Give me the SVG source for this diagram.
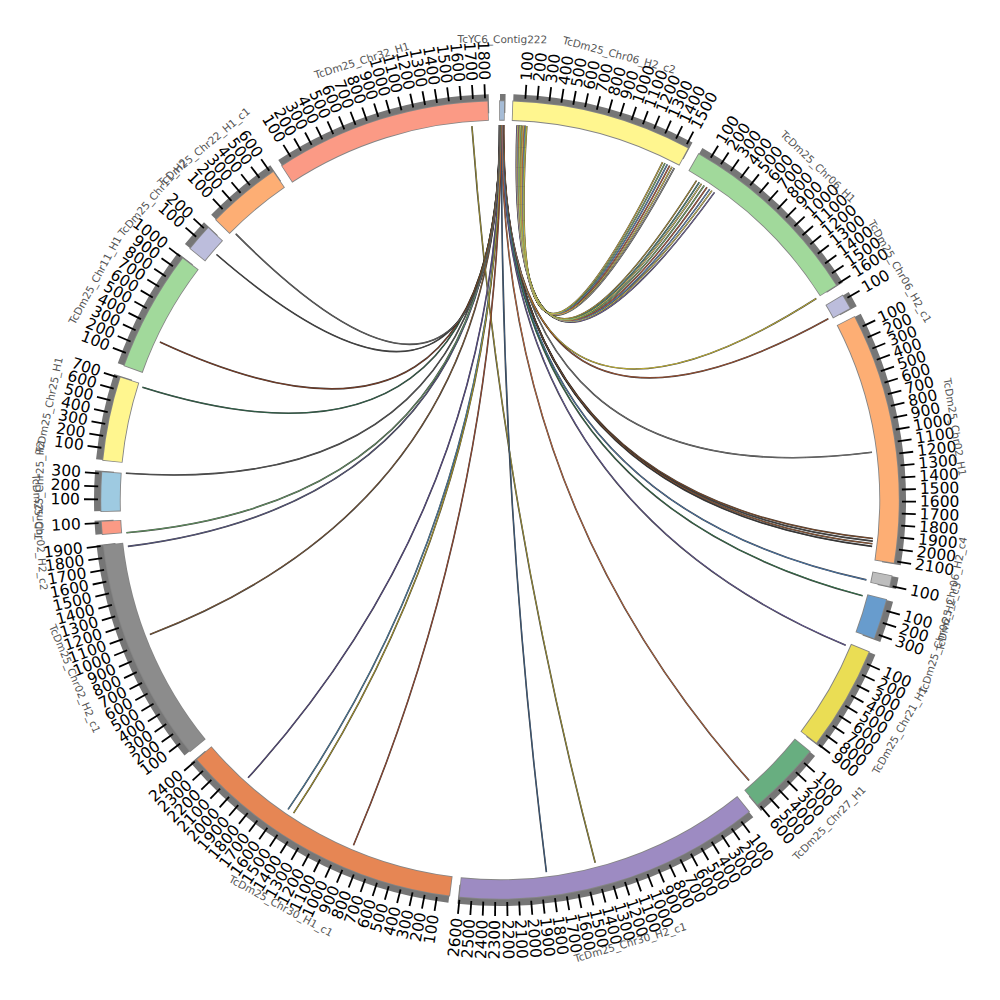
<svg xmlns="http://www.w3.org/2000/svg" xmlns:xlink="http://www.w3.org/1999/xlink" width="1000" height="1000" viewBox="0 0 1000 1000">
<style>
.sh{fill:none;stroke:#767676;stroke-width:19}
.ol{fill:none;stroke:#858585;stroke-width:20.4}
.bd{fill:none;stroke-width:18.6}
.r,.l{font-family:'DejaVu Sans',sans-serif;font-size:15.5px;fill:#000;dominant-baseline:central}
.l{text-anchor:end}
.nm{font-family:'DejaVu Sans',sans-serif;font-size:10.5px;fill:#555;text-anchor:middle;dominant-baseline:central}
.lo{fill:none;stroke:#1a1a1a;stroke-width:1.6;stroke-opacity:.85}
.li{fill:none;stroke-width:0.8}
</style>
<defs>
<line id="t" x1="402" y1="0" x2="416" y2="0" stroke="#000" stroke-width="1.8"/>
<path id="a1" d="M22.8,-374.3Q4,-18 174.3,-332"/>
<path id="a2" d="M23.6,-374.3Q4,-18 172,-333.2"/>
<path id="a3" d="M24.4,-374.2Q4,-18 169.7,-334.4"/>
<path id="a4" d="M25.2,-374.2Q4,-18 167.3,-335.6"/>
<path id="a5" d="M26,-374.1Q4,-18 165,-336.8"/>
<path id="a6" d="M26.8,-374Q4,-18 162.6,-337.9"/>
<path id="b1" d="M17,-374.6Q4,-18 214.5,-307.6"/>
<path id="b2" d="M17.7,-374.6Q4,-18 211.9,-309.4"/>
<path id="b3" d="M18.4,-374.5Q4,-18 209.7,-310.9"/>
<path id="b4" d="M19.1,-374.5Q4,-18 207,-312.7"/>
<path id="b5" d="M19.8,-374.5Q4,-18 204.2,-314.5"/>
<path id="b6" d="M20.5,-374.4Q4,-18 201.5,-316.3"/>
<path id="b7" d="M21.2,-374.4Q4,-18 199.3,-317.7"/>
<path id="b8" d="M21.9,-374.4Q4,-18 196.5,-319.4"/>
<path id="c1" d="M3.5,-375Q0,0 316.3,-201.5"/>
<path id="c2" d="M3.8,-375Q0,0 328.3,-181.2"/>
<path id="d1" d="M3.2,-375Q0,0 372,-47.7"/>
<path id="e1" d="M2.6,-375Q0,0 373,38.5"/>
<path id="e2" d="M2.8,-375Q0,0 372.8,41.1"/>
<path id="e3" d="M3,-375Q0,0 372.4,43.8"/>
<path id="e4" d="M3.1,-375Q0,0 372.1,46.4"/>
<path id="f1" d="M2.4,-375Q0,0 366.4,79.9"/>
<path id="g1" d="M2.2,-375Q0,0 362.6,95.8"/>
<path id="h1" d="M2,-375Q0,0 345.7,145.3"/>
<path id="i1" d="M1.8,-375Q0,0 249,280.4"/>
<path id="j1" d="M-28.1,-373.9Q0,0 95.2,362.7"/>
<path id="k1" d="M1.5,-375Q0,0 46.4,372.1"/>
<path id="l1" d="M0.7,-375Q0,0 -251.9,277.8"/>
<path id="l2" d="M0.9,-375Q0,0 -211.9,309.4"/>
<path id="l3" d="M1,-375Q0,0 -206.4,313.1"/>
<path id="l4" d="M1.2,-375Q0,0 -146.5,345.2"/>
<path id="m1" d="M0.5,-375Q0,0 -350.1,134.4"/>
<path id="m2" d="M0.3,-375Q0,0 -372.1,46.4"/>
<path id="m3" d="M0.2,-375Q0,0 -373.6,32.7"/>
<path id="m4" d="M0.1,-375Q0,0 -374.1,-26.8"/>
<path id="n1" d="M0,-375Q0,0 -357.6,-112.8"/>
<path id="o1" d="M-0.2,-375Q0,0 -340.1,-157.9"/>
<path id="p1" d="M-0.4,-375Q0,0 -283.5,-245.5"/>
<path id="q1" d="M-0.6,-375Q0,0 -264.2,-266.1"/>
</defs>
<rect width="1000" height="1000" fill="#fff"/>
<g transform="translate(500,500)">
<g id="links">
<g class="lo">
<use href="#a1"/><use href="#a2"/><use href="#a3"/><use href="#a4"/><use href="#a5"/><use href="#a6"/>
<use href="#b1"/><use href="#b2"/><use href="#b3"/><use href="#b4"/><use href="#b5"/><use href="#b6"/><use href="#b7"/><use href="#b8"/>
<use href="#c1"/><use href="#c2"/><use href="#d1"/><use href="#e1"/><use href="#e2"/><use href="#e3"/><use href="#e4"/>
<use href="#f1"/><use href="#g1"/><use href="#h1"/><use href="#i1"/><use href="#j1"/><use href="#k1"/>
<use href="#l1"/><use href="#l2"/><use href="#l3"/><use href="#l4"/><use href="#m1"/><use href="#m2"/><use href="#m3"/><use href="#m4"/>
<use href="#n1"/><use href="#o1"/><use href="#p1"/><use href="#q1"/>
</g>
<g class="li">
<use href="#a1" stroke="#9a9a9a"/><use href="#a2" stroke="#e8d44d"/><use href="#a3" stroke="#d05a3a"/><use href="#a4" stroke="#5b8fd0"/><use href="#a5" stroke="#7fbf6a"/><use href="#a6" stroke="#e0c040"/>
<use href="#b1" stroke="#7a6ab0"/><use href="#b2" stroke="#e8d44d"/><use href="#b3" stroke="#5b8fd0"/><use href="#b4" stroke="#d05a3a"/><use href="#b5" stroke="#7fbf6a"/><use href="#b6" stroke="#f0e060"/><use href="#b7" stroke="#4a9a8a"/><use href="#b8" stroke="#c0a030"/>
<use href="#c1" stroke="#e0cc30"/><use href="#c2" stroke="#b0502a"/><use href="#d1" stroke="#777"/><use href="#e1" stroke="#8a4a20"/><use href="#e2" stroke="#444"/><use href="#e3" stroke="#a05a30"/><use href="#e4" stroke="#333"/>
<use href="#f1" stroke="#4a80c0"/><use href="#g1" stroke="#2f7a4a"/><use href="#h1" stroke="#6a5aa8"/><use href="#i1" stroke="#d06a38"/><use href="#j1" stroke="#a89a30"/><use href="#k1" stroke="#3a5f8a"/>
<use href="#l1" stroke="#5a4a98"/><use href="#l2" stroke="#4a8ab8"/><use href="#l3" stroke="#c0a820"/><use href="#l4" stroke="#a8482a"/><use href="#m1" stroke="#8a5a30"/><use href="#m2" stroke="#5a5a90"/><use href="#m3" stroke="#6aaa6a"/><use href="#m4" stroke="#555"/>
<use href="#n1" stroke="#2a6a4a"/><use href="#o1" stroke="#8a3a1a"/><use href="#p1" stroke="#444"/><use href="#q1" stroke="#666"/>
</g>
</g>

<g id="contig222">
<circle class="sh" r="396.5" stroke-dasharray="5.54 3000" transform="rotate(-90)"/>
<circle class="ol" r="389.5" stroke-dasharray="5.68 3000" transform="rotate(-90.12)"/>
<circle class="bd" r="389.5" stroke="#a6bcd6" stroke-dasharray="4.08 3000" transform="rotate(-90)"/>
<text class="nm" transform="rotate(0.3) translate(0,-461)">TcYC6_Contig222</text>
</g>

<g id="chr06_h2_c2">
<circle class="sh" r="396.5" stroke-dasharray="182.69 3000" transform="rotate(-88.1)"/>
<circle class="ol" r="389.5" stroke-dasharray="179.71 3000" transform="rotate(-88.22)"/>
<circle class="bd" r="389.5" stroke="#fff68f" stroke-dasharray="178.11 3000" transform="rotate(-88.1)"/>
<use href="#t" transform="rotate(-86.38)"/><text class="r" transform="rotate(-86.38) translate(420)">100</text>
<use href="#t" transform="rotate(-84.66)"/><text class="r" transform="rotate(-84.66) translate(420)">200</text>
<use href="#t" transform="rotate(-82.94)"/><text class="r" transform="rotate(-82.94) translate(420)">300</text>
<use href="#t" transform="rotate(-81.22)"/><text class="r" transform="rotate(-81.22) translate(420)">400</text>
<use href="#t" transform="rotate(-79.5)"/><text class="r" transform="rotate(-79.5) translate(420)">500</text>
<use href="#t" transform="rotate(-77.78)"/><text class="r" transform="rotate(-77.78) translate(420)">600</text>
<use href="#t" transform="rotate(-76.06)"/><text class="r" transform="rotate(-76.06) translate(420)">700</text>
<use href="#t" transform="rotate(-74.34)"/><text class="r" transform="rotate(-74.34) translate(420)">800</text>
<use href="#t" transform="rotate(-72.62)"/><text class="r" transform="rotate(-72.62) translate(420)">900</text>
<use href="#t" transform="rotate(-70.9)"/><text class="r" transform="rotate(-70.9) translate(420)">1000</text>
<use href="#t" transform="rotate(-69.18)"/><text class="r" transform="rotate(-69.18) translate(420)">1100</text>
<use href="#t" transform="rotate(-67.46)"/><text class="r" transform="rotate(-67.46) translate(420)">1200</text>
<use href="#t" transform="rotate(-65.74)"/><text class="r" transform="rotate(-65.74) translate(420)">1300</text>
<use href="#t" transform="rotate(-64.02)"/><text class="r" transform="rotate(-64.02) translate(420)">1400</text>
<use href="#t" transform="rotate(-62.3)"/><text class="r" transform="rotate(-62.3) translate(420)">1500</text>
<text class="nm" transform="rotate(15) translate(0,-461)">TcDm25_Chr06_H2_c2</text>
</g>

<g id="chr06_h1">
<circle class="sh" r="396.5" stroke-dasharray="191.68 3000" transform="rotate(-60.1)"/>
<circle class="ol" r="389.5" stroke-dasharray="188.55 3000" transform="rotate(-60.22)"/>
<circle class="bd" r="389.5" stroke="#a1d99b" stroke-dasharray="186.95 3000" transform="rotate(-60.1)"/>
<use href="#t" transform="rotate(-58.38)"/><text class="r" transform="rotate(-58.38) translate(420)">100</text>
<use href="#t" transform="rotate(-56.66)"/><text class="r" transform="rotate(-56.66) translate(420)">200</text>
<use href="#t" transform="rotate(-54.95)"/><text class="r" transform="rotate(-54.95) translate(420)">300</text>
<use href="#t" transform="rotate(-53.23)"/><text class="r" transform="rotate(-53.23) translate(420)">400</text>
<use href="#t" transform="rotate(-51.51)"/><text class="r" transform="rotate(-51.51) translate(420)">500</text>
<use href="#t" transform="rotate(-49.79)"/><text class="r" transform="rotate(-49.79) translate(420)">600</text>
<use href="#t" transform="rotate(-48.07)"/><text class="r" transform="rotate(-48.07) translate(420)">700</text>
<use href="#t" transform="rotate(-46.36)"/><text class="r" transform="rotate(-46.36) translate(420)">800</text>
<use href="#t" transform="rotate(-44.64)"/><text class="r" transform="rotate(-44.64) translate(420)">900</text>
<use href="#t" transform="rotate(-42.92)"/><text class="r" transform="rotate(-42.92) translate(420)">1000</text>
<use href="#t" transform="rotate(-41.2)"/><text class="r" transform="rotate(-41.2) translate(420)">1100</text>
<use href="#t" transform="rotate(-39.48)"/><text class="r" transform="rotate(-39.48) translate(420)">1200</text>
<use href="#t" transform="rotate(-37.77)"/><text class="r" transform="rotate(-37.77) translate(420)">1300</text>
<use href="#t" transform="rotate(-36.05)"/><text class="r" transform="rotate(-36.05) translate(420)">1400</text>
<use href="#t" transform="rotate(-34.33)"/><text class="r" transform="rotate(-34.33) translate(420)">1500</text>
<use href="#t" transform="rotate(-32.61)"/><text class="r" transform="rotate(-32.61) translate(420)">1600</text>
<text class="nm" transform="rotate(43.65) translate(0,-461)">TcDm25_Chr06_H1</text>
</g>

<g id="chr06_h2_c1">
<circle class="sh" r="396.5" stroke-dasharray="15.92 3000" transform="rotate(-30.8)"/>
<circle class="ol" r="389.5" stroke-dasharray="15.88 3000" transform="rotate(-30.92)"/>
<circle class="bd" r="389.5" stroke="#bcbddc" stroke-dasharray="14.28 3000" transform="rotate(-30.8)"/>
<use href="#t" transform="rotate(-30.2)"/><text class="r" transform="rotate(-30.2) translate(420)">100</text>
<text class="nm" transform="rotate(60.25) translate(0,-461)">TcDm25_Chr06_H2_c1</text>
</g>

<g id="chr02_h1">
<circle class="sh" r="396.5" stroke-dasharray="252.93 3000" transform="rotate(-27.3)"/>
<circle class="ol" r="389.5" stroke-dasharray="248.71 3000" transform="rotate(-27.42)"/>
<circle class="bd" r="389.5" stroke="#fdae74" stroke-dasharray="247.11 3000" transform="rotate(-27.3)"/>
<use href="#t" transform="rotate(-25.58)"/><text class="r" transform="rotate(-25.58) translate(420)">100</text>
<use href="#t" transform="rotate(-23.86)"/><text class="r" transform="rotate(-23.86) translate(420)">200</text>
<use href="#t" transform="rotate(-22.14)"/><text class="r" transform="rotate(-22.14) translate(420)">300</text>
<use href="#t" transform="rotate(-20.42)"/><text class="r" transform="rotate(-20.42) translate(420)">400</text>
<use href="#t" transform="rotate(-18.7)"/><text class="r" transform="rotate(-18.7) translate(420)">500</text>
<use href="#t" transform="rotate(-16.98)"/><text class="r" transform="rotate(-16.98) translate(420)">600</text>
<use href="#t" transform="rotate(-15.26)"/><text class="r" transform="rotate(-15.26) translate(420)">700</text>
<use href="#t" transform="rotate(-13.54)"/><text class="r" transform="rotate(-13.54) translate(420)">800</text>
<use href="#t" transform="rotate(-11.82)"/><text class="r" transform="rotate(-11.82) translate(420)">900</text>
<use href="#t" transform="rotate(-10.1)"/><text class="r" transform="rotate(-10.1) translate(420)">1000</text>
<use href="#t" transform="rotate(-8.38)"/><text class="r" transform="rotate(-8.38) translate(420)">1100</text>
<use href="#t" transform="rotate(-6.66)"/><text class="r" transform="rotate(-6.66) translate(420)">1200</text>
<use href="#t" transform="rotate(-4.94)"/><text class="r" transform="rotate(-4.94) translate(420)">1300</text>
<use href="#t" transform="rotate(-3.22)"/><text class="r" transform="rotate(-3.22) translate(420)">1400</text>
<use href="#t" transform="rotate(-1.5)"/><text class="r" transform="rotate(-1.5) translate(420)">1500</text>
<use href="#t" transform="rotate(0.22)"/><text class="r" transform="rotate(0.22) translate(420)">1600</text>
<use href="#t" transform="rotate(1.94)"/><text class="r" transform="rotate(1.94) translate(420)">1700</text>
<use href="#t" transform="rotate(3.66)"/><text class="r" transform="rotate(3.66) translate(420)">1800</text>
<use href="#t" transform="rotate(5.38)"/><text class="r" transform="rotate(5.38) translate(420)">1900</text>
<use href="#t" transform="rotate(7.1)"/><text class="r" transform="rotate(7.1) translate(420)">2000</text>
<use href="#t" transform="rotate(8.82)"/><text class="r" transform="rotate(8.82) translate(420)">2100</text>
<text class="nm" transform="rotate(80.875) translate(0,-461)">TcDm25_Chr02_H1</text>
</g>

<g id="chr06_h2_c4">
<circle class="sh" r="396.5" stroke-dasharray="11.76 3000" transform="rotate(11)"/>
<circle class="ol" r="389.5" stroke-dasharray="11.8 3000" transform="rotate(10.88)"/>
<circle class="bd" r="389.5" stroke="#bdbdbd" stroke-dasharray="10.2 3000" transform="rotate(11)"/>
<use href="#t" transform="rotate(12.4)"/><text class="r" transform="rotate(12.4) translate(420)">100</text>
<text class="nm" transform="rotate(-78.25) translate(0,461)">TcDm25_Chr06_H2_c4</text>
</g>

<g id="chr06_h2_c3">
<circle class="sh" r="396.5" stroke-dasharray="41.52 3000" transform="rotate(14.5)"/>
<circle class="ol" r="389.5" stroke-dasharray="41.03 3000" transform="rotate(14.38)"/>
<circle class="bd" r="389.5" stroke="#689ccd" stroke-dasharray="39.43 3000" transform="rotate(14.5)"/>
<use href="#t" transform="rotate(16)"/><text class="r" transform="rotate(16) translate(420)">100</text>
<use href="#t" transform="rotate(17.8)"/><text class="r" transform="rotate(17.8) translate(420)">200</text>
<use href="#t" transform="rotate(19.6)"/><text class="r" transform="rotate(19.6) translate(420)">300</text>
<text class="nm" transform="rotate(-72.6) translate(0,461)">TcDm25_Chr06_H2_c3</text>
</g>

<g id="chr21_h1">
<circle class="sh" r="396.5" stroke-dasharray="105.88 3000" transform="rotate(22.4)"/>
<circle class="ol" r="389.5" stroke-dasharray="104.25 3000" transform="rotate(22.28)"/>
<circle class="bd" r="389.5" stroke="#eadd54" stroke-dasharray="102.65 3000" transform="rotate(22.4)"/>
<use href="#t" transform="rotate(24.08)"/><text class="r" transform="rotate(24.08) translate(420)">100</text>
<use href="#t" transform="rotate(25.76)"/><text class="r" transform="rotate(25.76) translate(420)">200</text>
<use href="#t" transform="rotate(27.43)"/><text class="r" transform="rotate(27.43) translate(420)">300</text>
<use href="#t" transform="rotate(29.11)"/><text class="r" transform="rotate(29.11) translate(420)">400</text>
<use href="#t" transform="rotate(30.79)"/><text class="r" transform="rotate(30.79) translate(420)">500</text>
<use href="#t" transform="rotate(32.47)"/><text class="r" transform="rotate(32.47) translate(420)">600</text>
<use href="#t" transform="rotate(34.15)"/><text class="r" transform="rotate(34.15) translate(420)">700</text>
<use href="#t" transform="rotate(35.82)"/><text class="r" transform="rotate(35.82) translate(420)">800</text>
<use href="#t" transform="rotate(37.5)"/><text class="r" transform="rotate(37.5) translate(420)">900</text>
<text class="nm" transform="rotate(-60.05) translate(0,461)">TcDm25_Chr21_H1</text>
</g>

<g id="chr27_h1">
<circle class="sh" r="396.5" stroke-dasharray="75.43 3000" transform="rotate(39.1)"/>
<circle class="ol" r="389.5" stroke-dasharray="74.34 3000" transform="rotate(38.98)"/>
<circle class="bd" r="389.5" stroke="#68ae80" stroke-dasharray="72.74 3000" transform="rotate(39.1)"/>
<use href="#t" transform="rotate(40.85)"/><text class="r" transform="rotate(40.85) translate(420)">100</text>
<use href="#t" transform="rotate(42.6)"/><text class="r" transform="rotate(42.6) translate(420)">200</text>
<use href="#t" transform="rotate(44.35)"/><text class="r" transform="rotate(44.35) translate(420)">300</text>
<use href="#t" transform="rotate(46.1)"/><text class="r" transform="rotate(46.1) translate(420)">400</text>
<use href="#t" transform="rotate(47.85)"/><text class="r" transform="rotate(47.85) translate(420)">500</text>
<use href="#t" transform="rotate(49.6)"/><text class="r" transform="rotate(49.6) translate(420)">600</text>
<text class="nm" transform="rotate(-45.55) translate(0,461)">TcDm25_Chr27_H1</text>
</g>

<g id="chr30_h2_c1">
<circle class="sh" r="396.5" stroke-dasharray="308.63 3000" transform="rotate(51.4)"/>
<circle class="ol" r="389.5" stroke-dasharray="303.43 3000" transform="rotate(51.28)"/>
<circle class="bd" r="389.5" stroke="#9d8bc2" stroke-dasharray="301.83 3000" transform="rotate(51.4)"/>
<use href="#t" transform="rotate(53.11)"/><text class="r" transform="rotate(53.11) translate(420)">100</text>
<use href="#t" transform="rotate(54.82)"/><text class="r" transform="rotate(54.82) translate(420)">200</text>
<use href="#t" transform="rotate(56.52)"/><text class="r" transform="rotate(56.52) translate(420)">300</text>
<use href="#t" transform="rotate(58.23)"/><text class="r" transform="rotate(58.23) translate(420)">400</text>
<use href="#t" transform="rotate(59.94)"/><text class="r" transform="rotate(59.94) translate(420)">500</text>
<use href="#t" transform="rotate(61.65)"/><text class="r" transform="rotate(61.65) translate(420)">600</text>
<use href="#t" transform="rotate(63.35)"/><text class="r" transform="rotate(63.35) translate(420)">700</text>
<use href="#t" transform="rotate(65.06)"/><text class="r" transform="rotate(65.06) translate(420)">800</text>
<use href="#t" transform="rotate(66.77)"/><text class="r" transform="rotate(66.77) translate(420)">900</text>
<use href="#t" transform="rotate(68.48)"/><text class="r" transform="rotate(68.48) translate(420)">1000</text>
<use href="#t" transform="rotate(70.18)"/><text class="r" transform="rotate(70.18) translate(420)">1100</text>
<use href="#t" transform="rotate(71.89)"/><text class="r" transform="rotate(71.89) translate(420)">1200</text>
<use href="#t" transform="rotate(73.6)"/><text class="r" transform="rotate(73.6) translate(420)">1300</text>
<use href="#t" transform="rotate(75.31)"/><text class="r" transform="rotate(75.31) translate(420)">1400</text>
<use href="#t" transform="rotate(77.02)"/><text class="r" transform="rotate(77.02) translate(420)">1500</text>
<use href="#t" transform="rotate(78.72)"/><text class="r" transform="rotate(78.72) translate(420)">1600</text>
<use href="#t" transform="rotate(80.43)"/><text class="r" transform="rotate(80.43) translate(420)">1700</text>
<use href="#t" transform="rotate(82.14)"/><text class="r" transform="rotate(82.14) translate(420)">1800</text>
<use href="#t" transform="rotate(83.85)"/><text class="r" transform="rotate(83.85) translate(420)">1900</text>
<use href="#t" transform="rotate(85.55)"/><text class="r" transform="rotate(85.55) translate(420)">2000</text>
<use href="#t" transform="rotate(87.26)"/><text class="r" transform="rotate(87.26) translate(420)">2100</text>
<use href="#t" transform="rotate(88.97)"/><text class="r" transform="rotate(88.97) translate(420)">2200</text>
<use href="#t" transform="rotate(90.68)"/><text class="l" transform="rotate(90.68) translate(420) rotate(180)">2300</text>
<use href="#t" transform="rotate(92.38)"/><text class="l" transform="rotate(92.38) translate(420) rotate(180)">2400</text>
<use href="#t" transform="rotate(94.09)"/><text class="l" transform="rotate(94.09) translate(420) rotate(180)">2500</text>
<use href="#t" transform="rotate(95.8)"/><text class="l" transform="rotate(95.8) translate(420) rotate(180)">2600</text>
<text class="nm" transform="rotate(-16.4) translate(0,461)">TcDm25_Chr30_H2_c1</text>
</g>

<g id="chr30_h1_c1">
<circle class="sh" r="396.5" stroke-dasharray="292.72 3000" transform="rotate(97.3)"/>
<circle class="ol" r="389.5" stroke-dasharray="287.8 3000" transform="rotate(97.18)"/>
<circle class="bd" r="389.5" stroke="#e68654" stroke-dasharray="286.2 3000" transform="rotate(97.3)"/>
<use href="#t" transform="rotate(99.05)"/><text class="l" transform="rotate(99.05) translate(420) rotate(180)">100</text>
<use href="#t" transform="rotate(100.81)"/><text class="l" transform="rotate(100.81) translate(420) rotate(180)">200</text>
<use href="#t" transform="rotate(102.56)"/><text class="l" transform="rotate(102.56) translate(420) rotate(180)">300</text>
<use href="#t" transform="rotate(104.32)"/><text class="l" transform="rotate(104.32) translate(420) rotate(180)">400</text>
<use href="#t" transform="rotate(106.07)"/><text class="l" transform="rotate(106.07) translate(420) rotate(180)">500</text>
<use href="#t" transform="rotate(107.82)"/><text class="l" transform="rotate(107.82) translate(420) rotate(180)">600</text>
<use href="#t" transform="rotate(109.58)"/><text class="l" transform="rotate(109.58) translate(420) rotate(180)">700</text>
<use href="#t" transform="rotate(111.33)"/><text class="l" transform="rotate(111.33) translate(420) rotate(180)">800</text>
<use href="#t" transform="rotate(113.09)"/><text class="l" transform="rotate(113.09) translate(420) rotate(180)">900</text>
<use href="#t" transform="rotate(114.84)"/><text class="l" transform="rotate(114.84) translate(420) rotate(180)">1000</text>
<use href="#t" transform="rotate(116.59)"/><text class="l" transform="rotate(116.59) translate(420) rotate(180)">1100</text>
<use href="#t" transform="rotate(118.35)"/><text class="l" transform="rotate(118.35) translate(420) rotate(180)">1200</text>
<use href="#t" transform="rotate(120.1)"/><text class="l" transform="rotate(120.1) translate(420) rotate(180)">1300</text>
<use href="#t" transform="rotate(121.86)"/><text class="l" transform="rotate(121.86) translate(420) rotate(180)">1400</text>
<use href="#t" transform="rotate(123.61)"/><text class="l" transform="rotate(123.61) translate(420) rotate(180)">1500</text>
<use href="#t" transform="rotate(125.36)"/><text class="l" transform="rotate(125.36) translate(420) rotate(180)">1600</text>
<use href="#t" transform="rotate(127.12)"/><text class="l" transform="rotate(127.12) translate(420) rotate(180)">1700</text>
<use href="#t" transform="rotate(128.87)"/><text class="l" transform="rotate(128.87) translate(420) rotate(180)">1800</text>
<use href="#t" transform="rotate(130.63)"/><text class="l" transform="rotate(130.63) translate(420) rotate(180)">1900</text>
<use href="#t" transform="rotate(132.38)"/><text class="l" transform="rotate(132.38) translate(420) rotate(180)">2000</text>
<use href="#t" transform="rotate(134.13)"/><text class="l" transform="rotate(134.13) translate(420) rotate(180)">2100</text>
<use href="#t" transform="rotate(135.89)"/><text class="l" transform="rotate(135.89) translate(420) rotate(180)">2200</text>
<use href="#t" transform="rotate(137.64)"/><text class="l" transform="rotate(137.64) translate(420) rotate(180)">2300</text>
<use href="#t" transform="rotate(139.4)"/><text class="l" transform="rotate(139.4) translate(420) rotate(180)">2400</text>
<text class="nm" transform="rotate(28.35) translate(0,461)">TcDm25_Chr30_H1_c1</text>
</g>

<g id="chr02_h2_c1">
<circle class="sh" r="396.5" stroke-dasharray="225.59 3000" transform="rotate(141)"/>
<circle class="ol" r="389.5" stroke-dasharray="221.86 3000" transform="rotate(140.88)"/>
<circle class="bd" r="389.5" stroke="#8c8c8c" stroke-dasharray="220.26 3000" transform="rotate(141)"/>
<use href="#t" transform="rotate(142.71)"/><text class="l" transform="rotate(142.71) translate(420) rotate(180)">100</text>
<use href="#t" transform="rotate(144.41)"/><text class="l" transform="rotate(144.41) translate(420) rotate(180)">200</text>
<use href="#t" transform="rotate(146.12)"/><text class="l" transform="rotate(146.12) translate(420) rotate(180)">300</text>
<use href="#t" transform="rotate(147.82)"/><text class="l" transform="rotate(147.82) translate(420) rotate(180)">400</text>
<use href="#t" transform="rotate(149.53)"/><text class="l" transform="rotate(149.53) translate(420) rotate(180)">500</text>
<use href="#t" transform="rotate(151.23)"/><text class="l" transform="rotate(151.23) translate(420) rotate(180)">600</text>
<use href="#t" transform="rotate(152.94)"/><text class="l" transform="rotate(152.94) translate(420) rotate(180)">700</text>
<use href="#t" transform="rotate(154.64)"/><text class="l" transform="rotate(154.64) translate(420) rotate(180)">800</text>
<use href="#t" transform="rotate(156.35)"/><text class="l" transform="rotate(156.35) translate(420) rotate(180)">900</text>
<use href="#t" transform="rotate(158.05)"/><text class="l" transform="rotate(158.05) translate(420) rotate(180)">1000</text>
<use href="#t" transform="rotate(159.76)"/><text class="l" transform="rotate(159.76) translate(420) rotate(180)">1100</text>
<use href="#t" transform="rotate(161.46)"/><text class="l" transform="rotate(161.46) translate(420) rotate(180)">1200</text>
<use href="#t" transform="rotate(163.17)"/><text class="l" transform="rotate(163.17) translate(420) rotate(180)">1300</text>
<use href="#t" transform="rotate(164.87)"/><text class="l" transform="rotate(164.87) translate(420) rotate(180)">1400</text>
<use href="#t" transform="rotate(166.58)"/><text class="l" transform="rotate(166.58) translate(420) rotate(180)">1500</text>
<use href="#t" transform="rotate(168.28)"/><text class="l" transform="rotate(168.28) translate(420) rotate(180)">1600</text>
<use href="#t" transform="rotate(169.99)"/><text class="l" transform="rotate(169.99) translate(420) rotate(180)">1700</text>
<use href="#t" transform="rotate(171.69)"/><text class="l" transform="rotate(171.69) translate(420) rotate(180)">1800</text>
<use href="#t" transform="rotate(173.4)"/><text class="l" transform="rotate(173.4) translate(420) rotate(180)">1900</text>
<text class="nm" transform="rotate(67.2) translate(0,461)">TcDm25_Chr02_H2_c1</text>
</g>

<g id="chr02_h2_c2">
<circle class="sh" r="396.5" stroke-dasharray="13.84 3000" transform="rotate(175.1)"/>
<circle class="ol" r="389.5" stroke-dasharray="13.84 3000" transform="rotate(174.98)"/>
<circle class="bd" r="389.5" stroke="#fb9a85" stroke-dasharray="12.24 3000" transform="rotate(175.1)"/>
<use href="#t" transform="rotate(176.7)"/><text class="l" transform="rotate(176.7) translate(420) rotate(180)">100</text>
<text class="nm" transform="rotate(86) translate(0,461)">TcDm25_Chr02_H2_c2</text>
</g>

<g id="chr25_h2">
<circle class="sh" r="396.5" stroke-dasharray="40.14 3000" transform="rotate(178.4)"/>
<circle class="ol" r="389.5" stroke-dasharray="39.67 3000" transform="rotate(178.28)"/>
<circle class="bd" r="389.5" stroke="#9ecae1" stroke-dasharray="38.07 3000" transform="rotate(178.4)"/>
<use href="#t" transform="rotate(180.1)"/><text class="l" transform="rotate(180.1) translate(420) rotate(180)">100</text>
<use href="#t" transform="rotate(181.95)"/><text class="l" transform="rotate(181.95) translate(420) rotate(180)">200</text>
<use href="#t" transform="rotate(183.8)"/><text class="l" transform="rotate(183.8) translate(420) rotate(180)">300</text>
<text class="nm" transform="rotate(271.2) translate(0,-461)">TcDm25_Chr25_H2</text>
</g>

<g id="chr25_h1">
<circle class="sh" r="396.5" stroke-dasharray="85.46 3000" transform="rotate(185.75)"/>
<circle class="ol" r="389.5" stroke-dasharray="84.2 3000" transform="rotate(185.63)"/>
<circle class="bd" r="389.5" stroke="#fff68f" stroke-dasharray="82.6 3000" transform="rotate(185.75)"/>
<use href="#t" transform="rotate(187.47)"/><text class="l" transform="rotate(187.47) translate(420) rotate(180)">100</text>
<use href="#t" transform="rotate(189.19)"/><text class="l" transform="rotate(189.19) translate(420) rotate(180)">200</text>
<use href="#t" transform="rotate(190.91)"/><text class="l" transform="rotate(190.91) translate(420) rotate(180)">300</text>
<use href="#t" transform="rotate(192.63)"/><text class="l" transform="rotate(192.63) translate(420) rotate(180)">400</text>
<use href="#t" transform="rotate(194.35)"/><text class="l" transform="rotate(194.35) translate(420) rotate(180)">500</text>
<use href="#t" transform="rotate(196.07)"/><text class="l" transform="rotate(196.07) translate(420) rotate(180)">600</text>
<use href="#t" transform="rotate(197.79)"/><text class="l" transform="rotate(197.79) translate(420) rotate(180)">700</text>
<text class="nm" transform="rotate(281.825) translate(0,-461)">TcDm25_Chr25_H1</text>
</g>

<g id="chr11_h1">
<circle class="sh" r="396.5" stroke-dasharray="123.18 3000" transform="rotate(199.7)"/>
<circle class="ol" r="389.5" stroke-dasharray="121.24 3000" transform="rotate(199.58)"/>
<circle class="bd" r="389.5" stroke="#a1d99b" stroke-dasharray="119.64 3000" transform="rotate(199.7)"/>
<use href="#t" transform="rotate(201.46)"/><text class="l" transform="rotate(201.46) translate(420) rotate(180)">100</text>
<use href="#t" transform="rotate(203.22)"/><text class="l" transform="rotate(203.22) translate(420) rotate(180)">200</text>
<use href="#t" transform="rotate(204.98)"/><text class="l" transform="rotate(204.98) translate(420) rotate(180)">300</text>
<use href="#t" transform="rotate(206.74)"/><text class="l" transform="rotate(206.74) translate(420) rotate(180)">400</text>
<use href="#t" transform="rotate(208.5)"/><text class="l" transform="rotate(208.5) translate(420) rotate(180)">500</text>
<use href="#t" transform="rotate(210.26)"/><text class="l" transform="rotate(210.26) translate(420) rotate(180)">600</text>
<use href="#t" transform="rotate(212.02)"/><text class="l" transform="rotate(212.02) translate(420) rotate(180)">700</text>
<use href="#t" transform="rotate(213.78)"/><text class="l" transform="rotate(213.78) translate(420) rotate(180)">800</text>
<use href="#t" transform="rotate(215.54)"/><text class="l" transform="rotate(215.54) translate(420) rotate(180)">900</text>
<use href="#t" transform="rotate(217.3)"/><text class="l" transform="rotate(217.3) translate(420) rotate(180)">1000</text>
<text class="nm" transform="rotate(298.5) translate(0,-461)">TcDm25_Chr11_H1</text>
</g>

<g id="chr11_h2">
<circle class="sh" r="396.5" stroke-dasharray="28.37 3000" transform="rotate(219.1)"/>
<circle class="ol" r="389.5" stroke-dasharray="28.11 3000" transform="rotate(218.98)"/>
<circle class="bd" r="389.5" stroke="#bcbddc" stroke-dasharray="26.51 3000" transform="rotate(219.1)"/>
<use href="#t" transform="rotate(220.9)"/><text class="l" transform="rotate(220.9) translate(420) rotate(180)">100</text>
<use href="#t" transform="rotate(222.55)"/><text class="l" transform="rotate(222.55) translate(420) rotate(180)">200</text>
<text class="nm" transform="rotate(311.05) translate(0,-461)">TcDm25_Chr11_H2</text>
</g>

<g id="chr22_h1_c1">
<circle class="sh" r="396.5" stroke-dasharray="75.43 3000" transform="rotate(224.65)"/>
<circle class="ol" r="389.5" stroke-dasharray="74.34 3000" transform="rotate(224.53)"/>
<circle class="bd" r="389.5" stroke="#fdae74" stroke-dasharray="72.74 3000" transform="rotate(224.65)"/>
<use href="#t" transform="rotate(226.37)"/><text class="l" transform="rotate(226.37) translate(420) rotate(180)">100</text>
<use href="#t" transform="rotate(228.09)"/><text class="l" transform="rotate(228.09) translate(420) rotate(180)">200</text>
<use href="#t" transform="rotate(229.81)"/><text class="l" transform="rotate(229.81) translate(420) rotate(180)">300</text>
<use href="#t" transform="rotate(231.53)"/><text class="l" transform="rotate(231.53) translate(420) rotate(180)">400</text>
<use href="#t" transform="rotate(233.25)"/><text class="l" transform="rotate(233.25) translate(420) rotate(180)">500</text>
<use href="#t" transform="rotate(234.97)"/><text class="l" transform="rotate(234.97) translate(420) rotate(180)">600</text>
<text class="nm" transform="rotate(320) translate(0,-461)">TcDm25_Chr22_H1_c1</text>
</g>

<g id="chr32_h1">
<circle class="sh" r="396.5" stroke-dasharray="217.98 3000" transform="rotate(236.9)"/>
<circle class="ol" r="389.5" stroke-dasharray="214.38 3000" transform="rotate(236.78)"/>
<circle class="bd" r="389.5" stroke="#fb9a85" stroke-dasharray="212.78 3000" transform="rotate(236.9)"/>
<use href="#t" transform="rotate(238.62)"/><text class="l" transform="rotate(238.62) translate(420) rotate(180)">100</text>
<use href="#t" transform="rotate(240.34)"/><text class="l" transform="rotate(240.34) translate(420) rotate(180)">200</text>
<use href="#t" transform="rotate(242.06)"/><text class="l" transform="rotate(242.06) translate(420) rotate(180)">300</text>
<use href="#t" transform="rotate(243.78)"/><text class="l" transform="rotate(243.78) translate(420) rotate(180)">400</text>
<use href="#t" transform="rotate(245.5)"/><text class="l" transform="rotate(245.5) translate(420) rotate(180)">500</text>
<use href="#t" transform="rotate(247.22)"/><text class="l" transform="rotate(247.22) translate(420) rotate(180)">600</text>
<use href="#t" transform="rotate(248.94)"/><text class="l" transform="rotate(248.94) translate(420) rotate(180)">700</text>
<use href="#t" transform="rotate(250.66)"/><text class="l" transform="rotate(250.66) translate(420) rotate(180)">800</text>
<use href="#t" transform="rotate(252.38)"/><text class="l" transform="rotate(252.38) translate(420) rotate(180)">900</text>
<use href="#t" transform="rotate(254.1)"/><text class="l" transform="rotate(254.1) translate(420) rotate(180)">1000</text>
<use href="#t" transform="rotate(255.82)"/><text class="l" transform="rotate(255.82) translate(420) rotate(180)">1100</text>
<use href="#t" transform="rotate(257.54)"/><text class="l" transform="rotate(257.54) translate(420) rotate(180)">1200</text>
<use href="#t" transform="rotate(259.26)"/><text class="l" transform="rotate(259.26) translate(420) rotate(180)">1300</text>
<use href="#t" transform="rotate(260.98)"/><text class="l" transform="rotate(260.98) translate(420) rotate(180)">1400</text>
<use href="#t" transform="rotate(262.7)"/><text class="l" transform="rotate(262.7) translate(420) rotate(180)">1500</text>
<use href="#t" transform="rotate(264.42)"/><text class="l" transform="rotate(264.42) translate(420) rotate(180)">1600</text>
<use href="#t" transform="rotate(266.14)"/><text class="l" transform="rotate(266.14) translate(420) rotate(180)">1700</text>
<use href="#t" transform="rotate(267.86)"/><text class="l" transform="rotate(267.86) translate(420) rotate(180)">1800</text>
<text class="nm" transform="rotate(342.55) translate(0,-461)">TcDm25_Chr32_H1</text>
</g>
</g>
</svg>
